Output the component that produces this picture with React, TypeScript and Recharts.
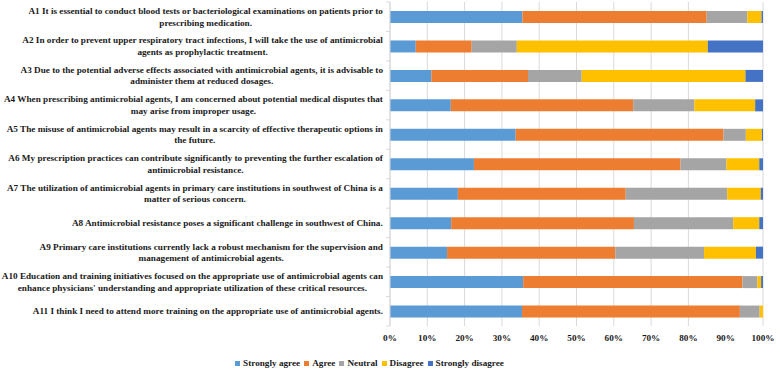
import React from "react";
import { BarChart, Bar, XAxis, YAxis, CartesianGrid, Legend } from "recharts";

// Survey items (A1–A11) and their wrapped label text
const codes = ["A1", "A2", "A3", "A4", "A5", "A6", "A7", "A8", "A9", "A10", "A11"];

const questionLines: string[][] = [
  ["A1 It is essential to conduct blood tests or bacteriological examinations on patients prior to", "prescribing medication."],
  ["A2 In order to prevent upper respiratory tract infections, I will take the use of antimicrobial", "agents as prophylactic treatment."],
  ["A3 Due to the potential adverse effects associated with antimicrobial agents, it is advisable to", "administer them at reduced dosages."],
  ["A4 When prescribing antimicrobial agents, I am concerned about potential medical disputes that", "may arise from improper usage."],
  ["A5 The misuse of antimicrobial agents may result in a scarcity of effective therapeutic options in", "the future."],
  ["A6 My prescription practices can contribute significantly to preventing the further escalation of", "antimicrobial resistance."],
  ["A7 The utilization of antimicrobial agents in primary care institutions in southwest of China is a", "matter of serious concern."],
  ["A8 Antimicrobial resistance poses a significant challenge in southwest of China."],
  ["A9 Primary care institutions currently lack a robust mechanism for the supervision and", "management of antimicrobial agents."],
  ["A10 Education and training initiatives focused on the appropriate use of antimicrobial agents can", "enhance physicians' understanding and appropriate utilization of these critical resources."],
  ["A11 I think I need to attend more training on the appropriate use of antimicrobial agents."],
];

// Response shares (%) per item
const stronglyAgree = [35.5, 6.9, 11.1, 16.3, 33.7, 22.5, 18.2, 16.4, 15.3, 35.7, 35.4];
const agree = [49.4, 15.0, 25.9, 48.9, 55.7, 55.4, 45.0, 49.0, 45.1, 58.8, 58.4];
const neutral = [10.9, 12.1, 14.4, 16.4, 6.0, 12.3, 27.2, 26.6, 23.8, 4.0, 5.3];
const disagree = [3.8, 51.2, 43.9, 16.3, 4.3, 8.8, 9.0, 7.0, 13.9, 1.0, 0.9];
const stronglyDisagree = [0.4, 14.8, 4.7, 2.1, 0.3, 1.0, 0.6, 1.0, 1.9, 0.5, 0.0];

const xTicks = [0, 0.1, 0.2, 0.3, 0.4, 0.5, 0.6, 0.7, 0.8, 0.9, 1];

const seriesDefs = [
  { key: "stronglyAgree", name: "Strongly agree", color: "#5B9BD5" },
  { key: "agree", name: "Agree", color: "#ED7D31" },
  { key: "neutral", name: "Neutral", color: "#A5A5A5" },
  { key: "disagree", name: "Disagree", color: "#FFC000" },
  { key: "stronglyDisagree", name: "Strongly disagree", color: "#4472C4" },
];

const data = codes.map((code, i) => ({
  code,
  stronglyAgree: stronglyAgree[i],
  agree: agree[i],
  neutral: neutral[i],
  disagree: disagree[i],
  stronglyDisagree: stronglyDisagree[i],
}));

// Layout
const WIDTH = 780;
const HEIGHT = 370;
const AXIS_X = 390;
const PLOT_TOP = 2;
const LEGEND_H = 28;
const XAXIS_H = 16;
const PLOT_BOTTOM = HEIGHT - LEGEND_H - XAXIS_H;
const BAND = (PLOT_BOTTOM - PLOT_TOP) / codes.length;

const FONT_FAMILY = "'Liberation Serif', 'Times New Roman', serif";
const FONT_SIZE = 9.2;
const LINE_H = 11.7;
const LABEL_RIGHT = 383;

let measureCtx: CanvasRenderingContext2D | null = null;
function textWidth(s: string): number {
  if (!measureCtx) {
    const c = document.createElement("canvas");
    measureCtx = c.getContext("2d");
  }
  if (!measureCtx) return s.length * 4;
  measureCtx.font = `bold ${FONT_SIZE}px ${FONT_FAMILY}`;
  return measureCtx.measureText(s).width;
}

// Multi-line, block-right-aligned, line-centred category label with boundary tick marks
function QuestionTick(props: any) {
  const { y, payload } = props;
  const idx = codes.indexOf(payload.value);
  const lines = questionLines[idx] || [String(payload.value)];
  const blockW = Math.max(...lines.map(textWidth));
  const cx = LABEL_RIGHT - blockW / 2;
  const startY = y - ((lines.length - 1) * LINE_H) / 2;
  return (
    <g>
      <line x1={AXIS_X - 4} x2={AXIS_X} y1={y + BAND / 2} y2={y + BAND / 2} stroke="#D9D9D9" />
      {idx === 0 && (
        <line x1={AXIS_X - 4} x2={AXIS_X} y1={y - BAND / 2} y2={y - BAND / 2} stroke="#D9D9D9" />
      )}
      <text
        textAnchor="middle"
        fontFamily={FONT_FAMILY}
        fontSize={FONT_SIZE}
        fontWeight="bold"
        fill="#1a1a1a"
      >
        {lines.map((ln, i) => (
          <tspan key={i} x={cx} y={startY + i * LINE_H} dominantBaseline="central">
            {ln}
          </tspan>
        ))}
      </text>
    </g>
  );
}

function LegendContent() {
  return (
    <div
      style={{
        display: "flex",
        justifyContent: "center",
        alignItems: "center",
        height: LEGEND_H,
        paddingTop: 14,
        paddingRight: 20,
        boxSizing: "border-box",
        fontFamily: FONT_FAMILY,
        fontSize: FONT_SIZE,
        fontWeight: "bold",
        color: "#1a1a1a",
      }}
    >
      {seriesDefs.map((s) => (
        <span key={s.key} style={{ display: "inline-flex", alignItems: "center", marginRight: 4 }}>
          <span
            style={{
              display: "inline-block",
              width: 5,
              height: 5,
              background: s.color,
              marginRight: 3,
            }}
          />
          {s.name}
        </span>
      ))}
    </div>
  );
}

export default function App() {
  return (
    <div style={{ position: "absolute", left: 0, top: 0, width: WIDTH, height: HEIGHT, background: "#fff" }}>
      <BarChart
        width={WIDTH}
        height={HEIGHT}
        data={data}
        layout="vertical"
        stackOffset="expand"
        barSize={12}
        margin={{ top: PLOT_TOP, right: 17, bottom: 0, left: 0 }}
      >
        <CartesianGrid horizontal={false} vertical stroke="#D9D9D9" />
        <XAxis
          type="number"
          domain={[0, 1]}
          ticks={xTicks}
          tickFormatter={(v: number) => `${Math.round(v * 100)}%`}
          axisLine={false}
          tickLine={false}
          height={XAXIS_H}
          tick={{ fontFamily: FONT_FAMILY, fontSize: FONT_SIZE, fontWeight: "bold", fill: "#1a1a1a" }}
        />
        <YAxis
          type="category"
          dataKey="code"
          width={AXIS_X}
          interval={0}
          axisLine={{ stroke: "#D9D9D9" }}
          tickLine={false}
          tick={<QuestionTick />}
        />
        <Legend verticalAlign="bottom" height={LEGEND_H} content={<LegendContent />} />
        {seriesDefs.map((s) => (
          <Bar
            key={s.key}
            dataKey={s.key}
            name={s.name}
            stackId="a"
            fill={s.color}
            isAnimationActive={false}
          />
        ))}
      </BarChart>
    </div>
  );
}
